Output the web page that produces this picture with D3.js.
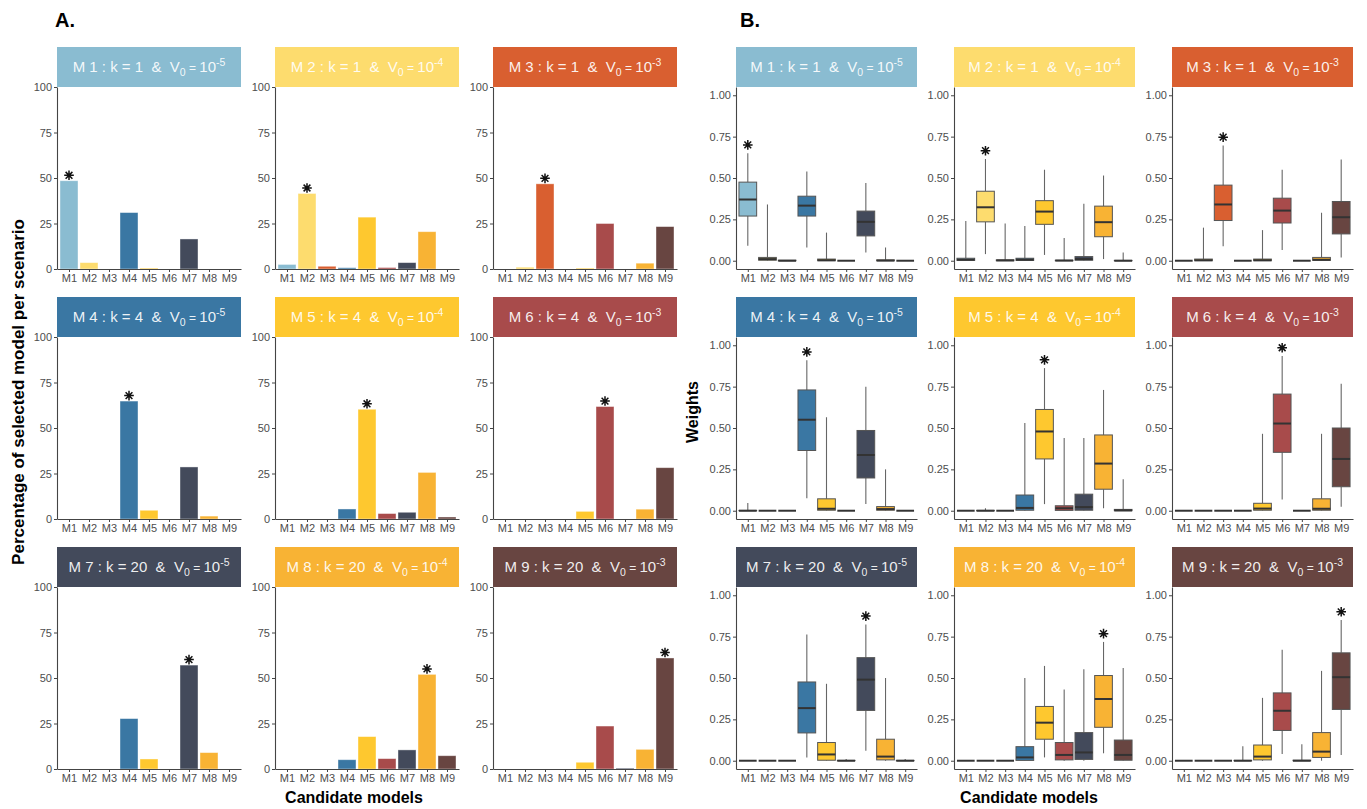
<!DOCTYPE html>
<html>
<head>
<meta charset="utf-8">
<script src="https://cdn.jsdelivr.net/npm/d3@7"></script>
<style>
  html, body { margin: 0; padding: 0; background: #fff; }
  svg { display: block; font-family: "Liberation Sans", Arial, sans-serif; }
</style>
</head>
<body>
<svg id="chart" width="1367" height="809"></svg>
<script>
// Candidate models and their colours
const models = ["M1", "M2", "M3", "M4", "M5", "M6", "M7", "M8", "M9"];
const modelColors = ["#8ABCD1", "#FDDC6E", "#D95F30", "#3A77A3", "#FEC82F",
                     "#A84B4B", "#434A5B", "#F8B334", "#684541"];

// Simulation scenarios (true model M1..M9)
const scenarioK = [1, 1, 1, 4, 4, 4, 20, 20, 20];
const scenarioV0Exp = ["-5", "-4", "-3", "-5", "-4", "-3", "-5", "-4", "-3"];

// Axis ticks
const pctTicks = [0, 25, 50, 75, 100];
const weightTicks = [0, 0.25, 0.5, 0.75, 1];

// Percentage of simulations in which each candidate model was selected
const pctS1 = [48.5, 3.5, 0, 31, 0.5, 0, 16.5, 0, 0];
const pctS2 = [2.5, 41.5, 1.5, 0.7, 28.5, 0.8, 3.5, 20.5, 0];
const pctS3 = [0, 1, 46.8, 0, 0.5, 25, 0, 3.2, 23.3];
const pctS4 = [0, 0, 0, 64.8, 4.8, 0, 28.6, 1.6, 0];
const pctS5 = [0, 0, 0, 5.5, 60.3, 3.0, 3.7, 25.6, 1.1];
const pctS6 = [0, 0, 0, 0, 4.2, 61.8, 0, 5.4, 28.2];
const pctS7 = [0, 0, 0, 27.7, 5.5, 0, 57.1, 9.0, 0];
const pctS8 = [0, 0, 0, 5.1, 17.8, 5.7, 10.5, 52.0, 7.3];
const pctS9 = [0, 0, 0, 0, 3.7, 23.6, 0.5, 10.8, 61.0];

// Model weights per scenario: [min, q1, median, q3, max] for each candidate model
const Z = [0, 0, 0, 0, 0];
const boxS1 = [[0.09, 0.27, 0.37, 0.475, 0.65], [0, 0.003, 0.01, 0.02, 0.34], [0, 0, 0, 0.003, 0.003],
               [0.08, 0.27, 0.333, 0.39, 0.54], [0, 0, 0.003, 0.01, 0.17], Z,
               [0.05, 0.15, 0.235, 0.30, 0.47], [0, 0, 0.001, 0.005, 0.08], Z];
const boxS2 = [[0, 0.002, 0.006, 0.015, 0.24], [0.04, 0.235, 0.323, 0.42, 0.615], [0, 0, 0.002, 0.005, 0.225],
               [0, 0.002, 0.006, 0.015, 0.21], [0.035, 0.22, 0.297, 0.363, 0.55], [0, 0, 0.001, 0.003, 0.137],
               [0, 0.003, 0.01, 0.025, 0.345], [0.01, 0.145, 0.233, 0.33, 0.515], [0, 0, 0, 0.002, 0.05]];
const boxS3 = [Z, [0, 0, 0.003, 0.01, 0.2], [0.087, 0.243, 0.34, 0.457, 0.697],
               Z, [0, 0, 0.003, 0.01, 0.185], [0.065, 0.228, 0.303, 0.378, 0.55],
               Z, [0, 0.002, 0.006, 0.02, 0.29], [0.02, 0.162, 0.263, 0.358, 0.612]];
const boxS4 = [[0, 0, 0, 0.002, 0.046], Z, Z,
               [0.075, 0.364, 0.55, 0.73, 0.91], [0, 0.003, 0.012, 0.072, 0.565], Z,
               [0.04, 0.198, 0.337, 0.485, 0.75], [0, 0.003, 0.01, 0.025, 0.25], Z];
const boxS5 = [Z, [0, 0, 0, 0.002, 0.015], Z,
               [0, 0.003, 0.017, 0.095, 0.53], [0.04, 0.313, 0.479, 0.612, 0.862], [0, 0.002, 0.015, 0.03, 0.44],
               [0, 0.003, 0.022, 0.1, 0.44], [0.015, 0.13, 0.285, 0.458, 0.73], [0, 0, 0.002, 0.008, 0.19]];
const boxS6 = [Z, Z, Z, Z,
               [0, 0.003, 0.013, 0.045, 0.465], [0.068, 0.353, 0.527, 0.705, 0.935],
               Z, [0, 0.003, 0.012, 0.072, 0.465], [0.024, 0.145, 0.313, 0.5, 0.768]];
const boxS7 = [Z, Z, Z,
               [0.02, 0.168, 0.318, 0.476, 0.763], [0, 0.003, 0.038, 0.11, 0.465], [0, 0, 0, 0.002, 0.01],
               [0.06, 0.304, 0.49, 0.623, 0.824], [0, 0.005, 0.025, 0.13, 0.5], [0, 0, 0, 0.002, 0.01]];
const boxS8 = [Z, Z, Z,
               [0, 0.002, 0.02, 0.085, 0.5], [0.02, 0.13, 0.23, 0.328, 0.573], [0, 0.005, 0.035, 0.11, 0.43],
               [0, 0.008, 0.05, 0.17, 0.553], [0.045, 0.202, 0.373, 0.515, 0.718], [0, 0.003, 0.035, 0.125, 0.56]];
const boxS9 = [Z, Z, Z,
               [0, 0, 0, 0.002, 0.087], [0, 0.005, 0.025, 0.095, 0.38], [0.04, 0.183, 0.302, 0.41, 0.67],
               [0, 0, 0, 0.003, 0.1], [0, 0.02, 0.055, 0.17, 0.543], [0.035, 0.31, 0.505, 0.652, 0.85]];

const pctAll = [pctS1, pctS2, pctS3, pctS4, pctS5, pctS6, pctS7, pctS8, pctS9];
const boxAll = [boxS1, boxS2, boxS3, boxS4, boxS5, boxS6, boxS7, boxS8, boxS9];

// ---- layout ----
const svg = d3.select("#chart");
const rowTops = [47, 297, 547];
const stripH = 40;
const plotH = 182;
const colsA = [57, 275, 493], widthA = 184;
const colsB = [736, 954, 1172], widthB = 181;
const axisColor = "#444";
const tickTextColor = "#4d4d4d";

function drawStrip(g, x0, w, top, s) {
  g.append("rect")
    .attr("x", x0).attr("y", top).attr("width", w).attr("height", stripH)
    .attr("fill", modelColors[s]);
  const t = g.append("text")
    .attr("x", x0 + w / 2).attr("y", top + stripH / 2 + 5)
    .attr("text-anchor", "middle")
    .attr("fill", "#fff").attr("fill-opacity", 0.92)
    .attr("font-size", 15)
    .attr("font-family", "'Liberation Sans Narrow', 'Liberation Sans', Arial, sans-serif")
    .style("white-space", "pre");
  t.append("tspan").text(`M ${s + 1} : k = ${scenarioK[s]}  &  V`);
  t.append("tspan").attr("dy", 4).attr("font-size", 10.5).text("0");
  t.append("tspan").attr("dy", -4).attr("font-size", 12).text(" = ");
  t.append("tspan").attr("font-size", 15).text("10");
  t.append("tspan").attr("dy", -6).attr("font-size", 10.5).text(scenarioV0Exp[s]);
}

function drawAsterisk(g, cx, cy) {
  const r = 4.8, d = r * Math.SQRT1_2;
  const p = d3.path();
  p.moveTo(cx - r, cy); p.lineTo(cx + r, cy);
  p.moveTo(cx, cy - r); p.lineTo(cx, cy + r);
  p.moveTo(cx - d, cy - d); p.lineTo(cx + d, cy + d);
  p.moveTo(cx - d, cy + d); p.lineTo(cx + d, cy - d);
  g.append("path").attr("d", p.toString()).attr("stroke", "#111").attr("stroke-width", 1.5).attr("fill", "none");
}

function styleAxis(sel) {
  sel.select(".domain").attr("stroke", axisColor).attr("stroke-width", 1.1);
  sel.selectAll(".tick line").attr("stroke", axisColor).attr("stroke-width", 1);
  sel.selectAll(".tick text").attr("fill", tickTextColor).attr("font-size", 11)
    .attr("font-family", "'Liberation Sans', Arial, sans-serif");
}

function drawAxes(g, x, y, top, ticks, fmt) {
  const ax = g.append("g").attr("transform", `translate(0,${top + plotH})`)
    .call(d3.axisBottom(x).tickValues(d3.range(1, 10)).tickFormat(i => models[i - 1])
      .tickSize(3).tickSizeOuter(0).tickPadding(2));
  styleAxis(ax);
  const ay = g.append("g").attr("transform", `translate(${x.range()[0]},0)`)
    .call(d3.axisLeft(y).tickValues(ticks).tickFormat(fmt).tickSize(3).tickSizeOuter(0).tickPadding(2));
  styleAxis(ay);
}

// ---- Panel A: bar charts of selection percentage ----
for (let s = 0; s < 9; s++) {
  const row = Math.floor(s / 3), col = s % 3;
  const top = rowTops[row], x0 = colsA[col];
  const plotTop = top + stripH;
  const g = svg.append("g");
  drawStrip(g, x0, widthA, top, s);
  const x = d3.scaleLinear().domain([0.4, 9.6]).range([x0, x0 + widthA]);
  const y = d3.scaleLinear().domain([0, 100]).range([plotTop + plotH, plotTop]);
  const unit = x(2) - x(1);
  g.selectAll("rect.bar").data(pctAll[s]).join("rect")
    .attr("class", "bar")
    .attr("x", (d, i) => x(i + 1) - 0.45 * unit)
    .attr("width", 0.9 * unit)
    .attr("y", d => y(d))
    .attr("height", d => y(0) - y(d))
    .attr("fill", (d, i) => modelColors[i])
    .attr("stroke", "#fff").attr("stroke-opacity", 0.5).attr("stroke-width", 0.8);
  drawAxes(g, x, y, plotTop, pctTicks, d3.format("d"));
  drawAsterisk(g, x(s + 1), y(pctAll[s][s] + 3));
}

// ---- Panel B: box plots of model weights ----
for (let s = 0; s < 9; s++) {
  const row = Math.floor(s / 3), col = s % 3;
  const top = rowTops[row], x0 = colsB[col];
  const plotTop = top + stripH;
  const g = svg.append("g");
  drawStrip(g, x0, widthB, top, s);
  const x = d3.scaleLinear().domain([0.4, 9.6]).range([x0, x0 + widthB]);
  const y = d3.scaleLinear().domain([-0.05, 1.05]).range([plotTop + plotH, plotTop]);
  const unit = x(2) - x(1);
  const bw = 0.9 * unit;
  boxAll[s].forEach((b, i) => {
    const cx = x(i + 1);
    const [mn, q1, md, q3, mx] = b;
    g.append("line").attr("x1", cx).attr("x2", cx).attr("y1", y(q3)).attr("y2", y(mx))
      .attr("stroke", "#666").attr("stroke-width", 1.1);
    g.append("line").attr("x1", cx).attr("x2", cx).attr("y1", y(mn)).attr("y2", y(q1))
      .attr("stroke", "#666").attr("stroke-width", 1.1);
    g.append("rect").attr("x", cx - bw / 2).attr("width", bw)
      .attr("y", y(q3)).attr("height", Math.max(0, y(q1) - y(q3)))
      .attr("fill", modelColors[i]).attr("stroke", "#555").attr("stroke-width", 1);
    g.append("line").attr("x1", cx - bw / 2).attr("x2", cx + bw / 2).attr("y1", y(md)).attr("y2", y(md))
      .attr("stroke", "#333").attr("stroke-width", 2);
  });
  drawAxes(g, x, y, plotTop, weightTicks, d3.format(".2f"));
  drawAsterisk(g, x(s + 1), y(boxAll[s][s][4] + 0.05));
}

// ---- titles ----
svg.append("text").attr("x", 55).attr("y", 27).attr("font-size", 20).attr("font-weight", "bold").text("A.");
svg.append("text").attr("x", 740).attr("y", 27).attr("font-size", 20).attr("font-weight", "bold").text("B.");

svg.append("text").attr("x", 354).attr("y", 803).attr("text-anchor", "middle")
  .attr("font-size", 16).attr("font-weight", "bold").text("Candidate models");
svg.append("text").attr("x", 1029).attr("y", 803).attr("text-anchor", "middle")
  .attr("font-size", 16).attr("font-weight", "bold").text("Candidate models");

svg.append("text").attr("transform", "translate(24,392) rotate(-90)").attr("text-anchor", "middle")
  .attr("font-size", 17).attr("font-weight", "bold").text("Percentage of selected model per scenario");
svg.append("text").attr("transform", "translate(698,412) rotate(-90)").attr("text-anchor", "middle")
  .attr("font-size", 16).attr("font-weight", "bold").text("Weights");
</script>
</body>
</html>
